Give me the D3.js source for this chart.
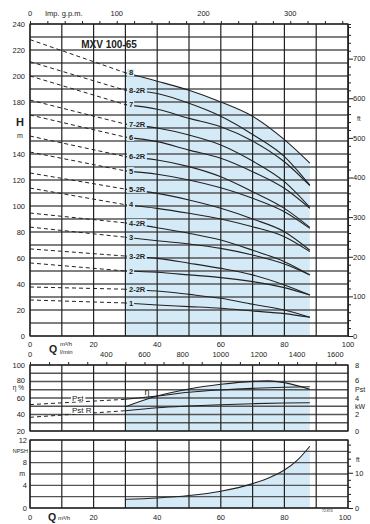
<!DOCTYPE html>
<html>
<head>
<meta charset="utf-8">
<script src="https://cdn.jsdelivr.net/npm/d3@7"></script>
<style>
  body { margin: 0; background: #fff; }
  text { font-family: "Liberation Sans", Arial, sans-serif; fill: #222; }
</style>
</head>
<body>
<script>
// ---- data ----
const flow = [0, 30, 40, 50, 60, 70, 80, 88];            // m3/h
const curveNames = ["8", "8-2R", "7", "7-2R", "6", "6-2R", "5", "5-2R",
                    "4", "4-2R", "3", "3-2R", "2", "2-2R", "1"];
const heads = [                                           // m, one row per curve
  [228, 202.5, 196, 189, 180, 169, 151, 133],
  [211, 189, 186.5, 179, 169, 155, 138, 116],
  [200, 178, 174.4, 167.4, 161, 150, 134, 115.6],
  [181.5, 163, 160, 154.6, 147, 134.6, 118.7, 99],
  [170, 153, 149.5, 143, 136.7, 126.4, 113.6, 98.2],
  [153.8, 138, 135.4, 130.3, 122.5, 111, 98.2, 83.6],
  [141.5, 127, 124.4, 120, 114, 106, 95.6, 82.8],
  [125.4, 113, 109.7, 104.6, 98.2, 90, 80.2, 66],
  [113.8, 101, 98.2, 94.4, 90, 84, 76.4, 64.9],
  [94.6, 87, 83.3, 79, 73.8, 66, 57.2, 47],
  [83.8, 76, 73.3, 70.8, 67.4, 62.3, 55.4, 47],
  [67, 61.5, 59.7, 56, 52, 47, 39.2, 31.5],
  [56.2, 50, 49, 47, 44.9, 41.8, 37.2, 31.5],
  [37.7, 36, 34.6, 32, 29, 24.4, 20, 14.4],
  [27.7, 25.4, 23.8, 22.6, 21.3, 19.2, 17.2, 14.4]
];

const effFlow = [30, 40, 50, 60, 70, 75, 80, 88];
const efficiency = [49.5, 62.4, 71, 76.6, 80.2, 80.8, 78.6, 70.5];   // %
const pst = [3.2, 3.84, 4.24, 4.69, 4.97, 5.17, 5.3, 5.37];         // kW, on flow
const pstR = [1.66, 2.46, 2.82, 3.03, 3.19, 3.31, 3.39, 3.43];      // kW, on flow

const npshFlow = [30, 40, 50, 60, 70, 75, 80, 84, 88];
const npsh = [1.54, 1.77, 2.2, 2.96, 4.3, 5.3, 6.7, 8.4, 10.9];     // m

const qLabels = [0, 20, 40, 60, 80, 100];
const lminLabels = [0, 400, 600, 800, 1000, 1200, 1400, 1600];
const gpmLabels = [0, 100, 200, 300];
const hLabels = [0, 20, 40, 60, 80, 100, 120, 140, 180, 200, 220, 240];
const ftLabels = [0, 100, 200, 300, 400, 500, 600, 700];
const etaLabels = [20, 40, 60, 80, 100];
const kwLabels = [0, 2, 4, 6, 8];
const npshLabels = [0, 4, 8, 12];
const npshFtLabels = [0, 10];

// ---- scales ----
const blue = "#d4eaf7";
const svg = d3.select("body").append("svg").attr("width", 370).attr("height", 524);

const x = d3.scaleLinear().domain([0, 100]).range([30, 348]);
const gpmX = d3.scaleLinear().domain([0, 366.6]).range([30, 348]);
const lminX = d3.scaleLinear().domain([0, 1666.7]).range([30, 348]);
const yH = d3.scaleLinear().domain([0, 240]).range([336, 24]);
const yFt = d3.scaleLinear().domain([0, 240 * 3.2808]).range([336, 24]);
const yEta = d3.scaleLinear().domain([20, 100]).range([431, 365]);
const yKw = d3.scaleLinear().domain([0, 8]).range([431, 365]);
const yN = d3.scaleLinear().domain([0, 12]).range([508, 440]);
const yNft = d3.scaleLinear().domain([0, 19.3]).range([508, 440]);

const pts = (xs, ys) => xs.map((q, i) => [q, ys[i]]);

function grid(yScale, yVals, top, bottom) {
  const g = svg.append("g");
  g.selectAll(".hg").data(yVals).join("line")
    .attr("x1", x(0)).attr("x2", x(100))
    .attr("y1", d => yScale(d)).attr("y2", d => yScale(d))
    .attr("stroke", "#555").attr("stroke-width", 1.4);
  g.selectAll(".vg").data(d3.range(0, 101, 10)).join("line")
    .attr("x1", d => x(d)).attr("x2", d => x(d))
    .attr("y1", top).attr("y2", bottom)
    .attr("stroke", "#222").attr("stroke-width", 1.2);
}

function label(txt, px, py, opts = {}) {
  return svg.append("text").attr("x", px).attr("y", py)
    .attr("text-anchor", opts.anchor || "middle")
    .attr("font-size", opts.size || 8)
    .attr("font-weight", opts.bold ? "bold" : null)
    .text(txt);
}

// ---- main H-Q panel ----
const solid8 = pts(flow.slice(1), heads[0].slice(1));
svg.append("path")
  .datum(solid8)
  .attr("d", d3.area().x(d => x(d[0])).y0(yH(0)).y1(d => yH(d[1])).curve(d3.curveMonotoneX))
  .attr("fill", blue);

grid(yH, d3.range(0, 241, 10), 24, 336);

// gpm ticks on top
svg.append("g").attr("transform", "translate(0,24)")
  .call(d3.axisTop(gpmX).tickValues(d3.range(0, 361, 20)).tickSize(3).tickFormat(""))
  .call(g => g.select(".domain").remove())
  .selectAll("line").attr("stroke", "#222");
gpmLabels.forEach(v => label(v, gpmX(v), 15.5, { size: 7.5 }));
label("Imp. g.p.m.", 45, 15.5, { anchor: "start", size: 7.5 });

// ft axis on the right
svg.append("g").attr("transform", "translate(348,0)")
  .call(d3.axisRight(yFt).tickValues(d3.range(0, 781, 20)).tickSize(3).tickFormat(""))
  .call(g => g.select(".domain").attr("stroke", "#222"))
  .selectAll(".tick line").attr("stroke", "#222")
  .attr("x2", d => d % 100 === 0 ? 5 : 3);
ftLabels.forEach(v => label(v, 353, yFt(v) + 2.8, { anchor: "start", size: 7.5 }));
label("ft", 357, 121, { anchor: "start", size: 6.5 });

hLabels.forEach(v => label(v, 25, yH(v) + 2.8, { anchor: "end", size: 7.5 }));
label("H", 20, 126, { bold: true, size: 11 });
label("m", 20, 138, { size: 7 });

qLabels.forEach(v => label(v, x(v), 346.5, { size: 7.5 }));
lminLabels.forEach(v => label(v, lminX(v), 357, { size: 7.5 }));
label("Q", 53, 353, { bold: true, size: 10.5 });
label("m³/h", 60, 346, { anchor: "start", size: 6 });
label("l/min", 60, 353.5, { anchor: "start", size: 6 });

svg.append("rect").attr("x", 30).attr("y", 24).attr("width", 318).attr("height", 312)
  .attr("fill", "none").attr("stroke", "#222").attr("stroke-width", 1.2);

label("MXV 100-65", 109, 48, { bold: true, size: 10 });

const dashLine = d3.line().x(d => x(d[0])).y(d => yH(d[1]));
const solidLine = d3.line().x(d => x(d[0])).y(d => yH(d[1])).curve(d3.curveMonotoneX);

heads.forEach((row, i) => {
  const p = pts(flow, row);
  svg.append("path").attr("d", dashLine(p.slice(0, 2)))
    .attr("fill", "none").attr("stroke", "#222").attr("stroke-width", 1)
    .attr("stroke-dasharray", "4,3");
  svg.append("path").attr("d", solidLine(p.slice(1)))
    .attr("fill", "none").attr("stroke", "#222").attr("stroke-width", 1.1);
});

heads.forEach((row, i) => {
  const ly = yH(row[1]);
  const t = label(curveNames[i], 129, ly + 2.7, { anchor: "start", bold: true, size: 7.5 });
  const bb = t.node().getBBox();
  svg.insert("rect", () => t.node())
    .attr("x", 127).attr("y", ly - 3.8).attr("width", bb.width + 3).attr("height", 7.6)
    .attr("fill", blue);
});

// ---- efficiency / power panel ----
svg.append("path")
  .datum(pts(effFlow, efficiency))
  .attr("d", d3.area().x(d => x(d[0])).y0(yEta(20)).y1(d => yEta(d[1])).curve(d3.curveMonotoneX))
  .attr("fill", blue);
grid(yEta, d3.range(20, 101, 10), 365, 431);
svg.append("rect").attr("x", 30).attr("y", 365).attr("width", 318).attr("height", 66)
  .attr("fill", "none").attr("stroke", "#222").attr("stroke-width", 1.2);
svg.append("g").attr("transform", "translate(0,365)")
  .call(d3.axisTop(lminX).tickValues(d3.range(0, 1601, 100)).tickSize(3).tickFormat(""))
  .call(g => g.select(".domain").remove())
  .selectAll("line").attr("stroke", "#222");

etaLabels.forEach(v => label(v, 25, yEta(v) + (v === 80 ? 1.5 : 2.8), { anchor: "end", size: 7.5 }));
label("η %", 24, 389.5, { anchor: "end", size: 6.5 });
kwLabels.forEach(v => label(v, 355, yKw(v) + (v === 6 ? 1.5 : 2.8), { anchor: "start", size: 7.5 }));
label("Pst", 355, 391.5, { anchor: "start", size: 7 });
label("kW", 355, 409, { anchor: "start", size: 7 });

const kwLine = d3.line().x(d => x(d[0])).y(d => yKw(d[1]));
const kwCurve = d3.line().x(d => x(d[0])).y(d => yKw(d[1])).curve(d3.curveMonotoneX);
[pst, pstR].forEach(s => {
  const p = pts(flow, s);
  svg.append("path").attr("d", kwLine(p.slice(0, 2)))
    .attr("fill", "none").attr("stroke", "#222").attr("stroke-width", 1)
    .attr("stroke-dasharray", "4,3");
  svg.append("path").attr("d", kwCurve(p.slice(1)))
    .attr("fill", "none").attr("stroke", "#222").attr("stroke-width", 1.1);
});
svg.append("path")
  .attr("d", d3.line().x(d => x(d[0])).y(d => yEta(d[1])).curve(d3.curveMonotoneX)(pts(effFlow, efficiency)))
  .attr("fill", "none").attr("stroke", "#222").attr("stroke-width", 1.1);

[["Pst", 400.5], ["Pst R", 413]].forEach(([txt, by]) => {
  const t = label(txt, 72, by, { anchor: "start", size: 8 });
  const bb = t.node().getBBox();
  svg.insert("rect", () => t.node())
    .attr("x", bb.x - 1).attr("y", bb.y + 1).attr("width", bb.width + 2).attr("height", bb.height - 2)
    .attr("fill", "#fff");
});
label("η", 147, 394.5, { size: 9 });

// ---- NPSH panel ----
svg.append("path")
  .datum(pts(npshFlow, npsh))
  .attr("d", d3.area().x(d => x(d[0])).y0(yN(0)).y1(d => yN(d[1])).curve(d3.curveMonotoneX))
  .attr("fill", blue);
grid(yN, d3.range(0, 13, 2), 440, 508);
svg.append("rect").attr("x", 30).attr("y", 440).attr("width", 318).attr("height", 68)
  .attr("fill", "none").attr("stroke", "#222").attr("stroke-width", 1.2);
svg.append("g").attr("transform", "translate(348,0)")
  .call(d3.axisRight(yNft).tickValues(d3.range(0, 19, 2)).tickSize(3).tickFormat(""))
  .call(g => g.select(".domain").remove())
  .selectAll(".tick line").attr("stroke", "#222")
  .attr("x2", d => d % 10 === 0 ? 5 : 3);
svg.append("path")
  .attr("d", d3.line().x(d => x(d[0])).y(d => yN(d[1])).curve(d3.curveMonotoneX)(pts(npshFlow, npsh)))
  .attr("fill", "none").attr("stroke", "#222").attr("stroke-width", 1.1);

npshLabels.forEach(v => label(v, 27, yN(v) + 2.8, { anchor: "end", size: 7.5 }));
label("NPSH", 28, 453, { anchor: "end", size: 5.5 });
label("m", 25, 476, { anchor: "end", size: 7 });
npshFtLabels.forEach(v => label(v, 355, yNft(v) + 2.8, { anchor: "start", size: 7.5 }));
label("ft", 356, 462, { anchor: "start", size: 6.5 });

qLabels.forEach(v => label(v, x(v) - (v === 100 ? 3 : 0), 519.5, { size: 7.5 }));
label("Q", 52, 521, { bold: true, size: 10.5 });
label("m³/h", 58, 519.5, { anchor: "start", size: 6 });
label("72.874", 322, 512, { anchor: "start", size: 3.5 });
</script>
</body>
</html>
